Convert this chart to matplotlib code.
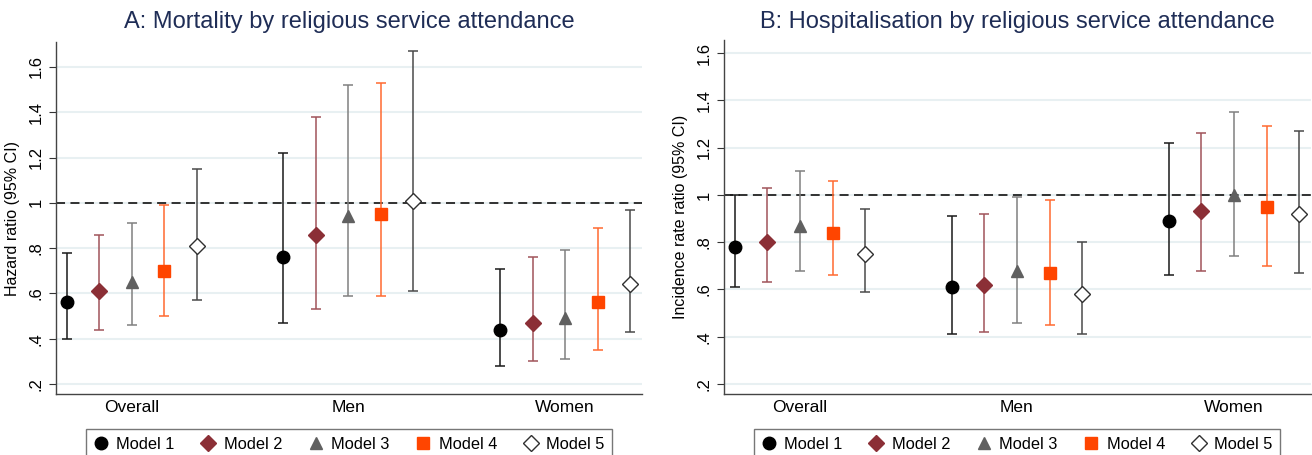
import matplotlib
matplotlib.use("Agg")
import matplotlib.pyplot as plt
from matplotlib.lines import Line2D

plt.rcParams['font.family'] = ['Liberation Sans', 'DejaVu Sans']

groups = ["Overall", "Men", "Women"]
models = ["Model 1", "Model 2", "Model 3", "Model 4", "Model 5"]

# Panel A: mortality (hazard ratio) -- per model: values for Overall, Men, Women
mort_est = [[0.56, 0.76, 0.44], [0.61, 0.86, 0.47], [0.65, 0.94, 0.49], [0.70, 0.95, 0.56], [0.81, 1.01, 0.64]]
mort_lo = [[0.40, 0.47, 0.28], [0.44, 0.53, 0.30], [0.46, 0.59, 0.31], [0.50, 0.59, 0.35], [0.57, 0.61, 0.43]]
mort_hi = [[0.78, 1.22, 0.71], [0.86, 1.38, 0.76], [0.91, 1.52, 0.79], [0.99, 1.53, 0.89], [1.15, 1.67, 0.97]]

# Panel B: hospitalisation (incidence rate ratio)
hosp_est = [[0.78, 0.61, 0.89], [0.80, 0.62, 0.93], [0.87, 0.68, 1.00], [0.84, 0.67, 0.95], [0.75, 0.58, 0.92]]
hosp_lo = [[0.61, 0.41, 0.66], [0.63, 0.42, 0.68], [0.68, 0.46, 0.74], [0.66, 0.45, 0.70], [0.59, 0.41, 0.67]]
hosp_hi = [[1.00, 0.91, 1.22], [1.03, 0.92, 1.26], [1.10, 0.99, 1.35], [1.06, 0.98, 1.29], [0.94, 0.80, 1.27]]

yticks = [0.2, 0.4, 0.6, 0.8, 1.0, 1.2, 1.4, 1.6]
ytick_labels = [".2", ".4", ".6", ".8", "1", "1.2", "1.4", "1.6"]

marker_styles = ["o", "D", "^", "s", "D"]
marker_face = ["black", "#8b2f36", "#606060", "#ff4500", "white"]
marker_edge = ["black", "#8b2f36", "#606060", "#ff4500", "#303030"]
bar_colors = ["#1a1a1a", "#a0545a", "#808080", "#ff6a30", "#4a4a4a"]
marker_sizes = [9, 8.5, 9, 8.5, 8.5]

W, H = 1312, 455
fig = plt.figure(figsize=(W / 100, H / 100), dpi=100)

def make_panel(rect, est, lo, hi, ylim, title, ylabel, legend_center):
    ax = fig.add_axes(rect)
    step = 0.15
    for m in range(5):
        xs = [g + 1 + (m - 2) * step for g in range(3)]
        yerr = [[e - l for e, l in zip(est[m], lo[m])], [h - e for e, h in zip(est[m], hi[m])]]
        ax.errorbar(xs, est[m], yerr=yerr, fmt="none", ecolor=bar_colors[m],
                    elinewidth=1.1, capsize=3.5, capthick=1.1, zorder=3)
        ax.plot(xs, est[m], linestyle="none", marker=marker_styles[m],
                markersize=marker_sizes[m], markerfacecolor=marker_face[m],
                markeredgecolor=marker_edge[m], markeredgewidth=1.0, zorder=4)
    ax.axhline(1.0, color="#222222", linestyle=(0, (5, 3)), linewidth=1.3, zorder=2)
    ax.set_xlim(0.65, 3.355)
    ax.set_ylim(*ylim)
    ax.set_yticks(yticks)
    ax.set_yticklabels(ytick_labels, rotation=90, va="center", fontsize=12)
    ax.set_xticks([1, 2, 3])
    ax.set_xticklabels(groups, fontsize=12.5)
    ax.tick_params(axis="x", length=0, pad=4)
    ax.tick_params(axis="y", length=5, width=0.8, color="#333333", pad=4)
    ax.grid(axis="y", color="#e8f0f2", linewidth=1.5, zorder=0)
    ax.set_axisbelow(True)
    for s in ["top", "right"]:
        ax.spines[s].set_visible(False)
    for s in ["left", "bottom"]:
        ax.spines[s].set_color("#444444")
        ax.spines[s].set_linewidth(1.0)
    ax.set_ylabel(ylabel, fontsize=11.5, labelpad=6)
    cx = rect[0] + rect[2] / 2
    fig.text(cx, 1 - 22 / H, title, ha="center", va="center", fontsize=17, color="#1f2d56")
    handles = [Line2D([], [], linestyle="none", marker=marker_styles[m], markersize=marker_sizes[m],
                      markerfacecolor=marker_face[m], markeredgecolor=marker_edge[m]) for m in range(5)]
    leg = fig.legend(handles, models, loc="upper center", bbox_to_anchor=(legend_center, 1 - 421 / H),
                     ncol=5, fontsize=11.8, frameon=True, fancybox=False, handlelength=0.9,
                     handletextpad=0.5, columnspacing=1.6, borderpad=0.45)
    leg.get_frame().set_edgecolor("#555555")
    leg.get_frame().set_linewidth(1.0)
    return ax

make_panel([56 / W, 61 / H, 586 / W, 352 / H], mort_est, mort_lo, mort_hi, (0.156, 1.71),
           "A: Mortality by religious service attendance", "Hazard ratio (95% CI)", 349 / W)
make_panel([724 / W, 61 / H, 587 / W, 354 / H], hosp_est, hosp_lo, hosp_hi, (0.158, 1.655),
           "B: Hospitalisation by religious service attendance", "Incidence rate ratio (95% CI)", 1017 / W)

fig.savefig("out.png", dpi=100)
